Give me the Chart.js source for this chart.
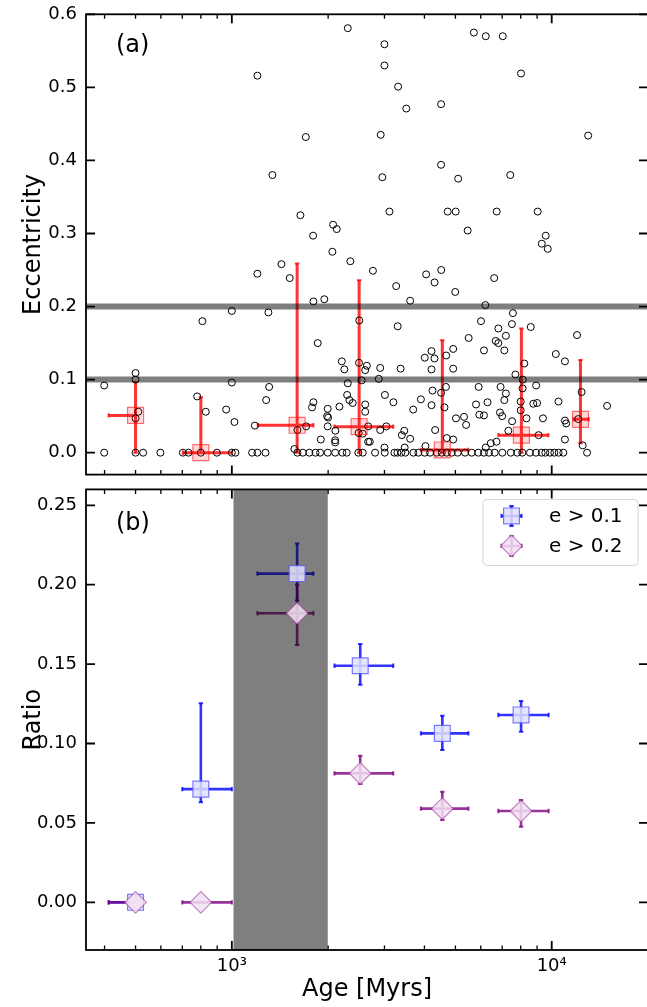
<!DOCTYPE html>
<html>
<head>
<meta charset="utf-8">
<script src="https://cdn.jsdelivr.net/npm/chart.js@4.4.1/dist/chart.umd.min.js"></script>
<style>
  html, body { margin: 0; padding: 0; background: #fff; overflow: hidden; width: 647px; height: 1007px; }
  canvas { position: absolute; left: 0; }
  #top { top: 0; }
  #bot { top: 480px; }
</style>
</head>
<body>
<canvas id="top" width="660" height="480"></canvas>
<canvas id="bot" width="660" height="527"></canvas>
<script>
// ---- data ----
// panel (a): [age Myr, eccentricity] of each star
const starAgeEcc = [
  [2304,.581],[1202,.516],[1703,.432],[1339,.380],[1638,.325],[1795,.297],[2073,.312],[2128,.306],
  [2999,.559],[2999,.530],[3310,.501],[3510,.471],[4510,.477],[2920,.435],[4510,.394],[2955,.377],
  [5100,.375],[7420,.380],[5710,.575],[6220,.570],[7030,.570],[8020,.519],[13000,.434],[3110,.330],
  [4730,.330],[5010,.330],[6730,.330],[9040,.330],[5460,.304],[9580,.297],[9310,.286],[9720,.279],
  [2062,.275],[2347,.262],[1429,.258],[1202,.245],[1517,.239],[1799,.207],[1946,.210],[809,.180],
  [1000,.194],[1301,.192],[1856,.150],[2503,.181],[2207,.125],[2248,.114],[2498,.123],[2643,.119],
  [2612,.113],[500,.109],[500,.100],[399,.092],[1000,.096],[1308,.090],[2304,.095],[2546,.099],
  [779,.077],[829,.056],[960,.059],[1019,.042],[1280,.072],[1180,.037],[2293,.079],[2331,.072],
  [2387,.068],[2169,.063],[1799,.069],[1781,.062],[1994,.060],[1986,.050],[2000,.048],[2612,.066],
  [2612,.056],[510,.056],[500,.047],[1994,.036],[2107,.030],[1897,.018],[2104,.017],[2104,.014],
  [1603,.031],[1707,.036],[1569,.005],[2491,.027],[2565,.026],[2668,.036],[2668,.015],
  [2761,.249],[3264,.228],[4050,.244],[4515,.250],[4303,.233],[4993,.220],[6610,.239],[3610,.208],
  [6200,.202],[7564,.191],[7510,.176],[8600,.172],[6010,.180],[6810,.170],[6810,.150],[7190,.160],
  [7110,.140],[6680,.153],[12000,.161],[3300,.173],[5500,.157],[6140,.140],[4010,.130],[4210,.139],
  [4300,.129],[4680,.133],[4920,.142],[4210,.114],[4920,.115],[3370,.115],[2910,.116],[10300,.135],
  [11000,.125],[8210,.122],[7700,.107],[2880,.101],[8940,.092],[8110,.088],[5910,.090],[6920,.090],
  [4670,.090],[4240,.085],[4510,.082],[7190,.081],[7110,.072],[12400,.083],[3010,.079],[3200,.069],
  [3900,.073],[4210,.065],[4620,.062],[3690,.059],[5800,.066],[6300,.069],[8000,.070],[8000,.058],
  [8760,.067],[9000,.068],[10500,.070],[5020,.047],[5320,.049],[5400,.038],[5940,.052],[6140,.051],
  [6890,.055],[7000,.050],[7520,.043],[9390,.047],[11000,.044],[11100,.040],[12100,.046],[2910,.031],
  [3460,.030],[3400,.024],[3610,.019],[2700,.015],[4320,.031],[4920,.018],[4700,.020],[4030,.009],
  [6220,.007],[6450,.013],[6720,.015],[7320,.030],[9100,.024],[11000,.018],[12500,.010],[12900,0],
  [14900,.064],[3000,.007],[3470,.007],[3040,.036],[8120,.100],[8340,.047],
  [399,0],[500,0],[528,0],[598,0],[703,0],[732,0],[800,0],[898,0],[1000,0],[1026,0],[1157,0],
  [1202,0],[1274,0],[1603,0],[1667,0],[1748,0],[1826,0],[1888,0],[1994,0],[2104,0],[2216,0],
  [2286,0],[2486,0],[2566,0],[2804,0],[3006,0],[3222,0],[3293,0],[3388,0],[3487,0],[3694,0],
  [3829,0],[4009,0],[4166,0],[4371,0],[4532,0],[4698,0],[4870,0],[5082,0],[5358,0],[5623,0],
  [5896,0],[6140,0],[6365,0],[6632,0],[7009,0],[7447,0],[7805,0],[8090,0],[8551,0],[8930,0],
  [9306,0],[9550,0],[9878,0],[10190,0],[10510,0],[10870,0]
];

// panel (a): binned medians
const binAge   = [500, 800, 1600, 2500, 4550, 8040, 12300];
const binAgeLo = [412, 703, 1205, 2093, 3900, 6810, 11700];
const binAgeHi = [500, 1000, 1799, 3196, 5487, 9760, 13050];
const medEcc   = [0.051, 0.000, 0.0375, 0.0356, 0.0037, 0.024, 0.0457];
const medEccLo = [0, 0, 0, 0, 0, 0, 0.013];
const medEccHi = [0.097, 0.076, 0.259, 0.236, 0.154, 0.170, 0.127];
const eccCuts  = [0.1, 0.2];

// panel (b): fraction of eccentric planets
const ratioAge   = [500, 800, 1600, 2520, 4550, 8020];
const ratioAgeLo = [412, 700, 1202, 2093, 3900, 6810];
const ratioAgeHi = [500, 1000, 1799, 3196, 5490, 9780];
const ratioE01   = [0, 0.0713, 0.207, 0.149, 0.1064, 0.118];
const ratioE01Lo = [0, 0.063, 0.190, 0.137, 0.0959, 0.1074];
const ratioE01Hi = [0, 0.1253, 0.226, 0.1626, 0.1175, 0.1268];
const ratioE02   = [0, 0, 0.182, 0.0812, 0.059, 0.0575];
const ratioE02Lo = [0, 0, 0.162, 0.0745, 0.0518, 0.0476];
const ratioE02Hi = [0, 0, 0.200, 0.0923, 0.0697, 0.0644];
const gapAge = [1012, 1995];
const legendLabels = ['e > 0.1', 'e > 0.2'];

// ticks
const xMajorTicks = [1000, 10000];
const xMajorLabels = ['10³', '10⁴'];
const xMinorTicks = [400, 500, 600, 700, 800, 900, 2000, 3000, 4000, 5000, 6000, 7000, 8000, 9000];
const eccTicks = [0, 0.1, 0.2, 0.3, 0.4, 0.5, 0.6];
const ratioTicks = [0, 0.05, 0.10, 0.15, 0.20, 0.25];

Chart.defaults.font.family = 'DejaVu Sans';
Chart.defaults.color = '#000';

const FONT = '"DejaVu Sans"';
const BLUE_BAR = 'rgba(0,0,255,0.8)';
const PURPLE_BAR = 'rgba(128,0,128,0.8)';

// fixed axis boxes, no label overflow padding
const fixY = s => { s.width = 86; s.paddingTop = 0; s.paddingBottom = 0; };
const fixX = h => s => { s.height = h; s.paddingLeft = 0; s.paddingRight = 0; };

function drawErrBars(ctx, x, y, g) {
  ctx.strokeStyle = g.color;
  g.x.forEach((xv, i) => {
    const px = x.getPixelForValue(xv), py = y.getPixelForValue(g.y[i]);
    const xl = x.getPixelForValue(g.xlo[i]), xh = x.getPixelForValue(g.xhi[i]);
    const yl = y.getPixelForValue(g.ylo[i]), yh = y.getPixelForValue(g.yhi[i]);
    ctx.lineWidth = g.width;
    ctx.beginPath();
    ctx.moveTo(xl, py); ctx.lineTo(xh, py);
    ctx.moveTo(px, yl); ctx.lineTo(px, yh);
    ctx.stroke();
    ctx.lineWidth = 2;
    ctx.beginPath();
    const c = 2.2;
    if (Math.abs(xl - px) > 1) { ctx.moveTo(xl, py - c); ctx.lineTo(xl, py + c); }
    if (Math.abs(xh - px) > 1) { ctx.moveTo(xh, py - c); ctx.lineTo(xh, py + c); }
    if (Math.abs(yl - py) > 1) { ctx.moveTo(px - c, yl); ctx.lineTo(px + c, yl); }
    if (Math.abs(yh - py) > 1) { ctx.moveTo(px - c, yh); ctx.lineTo(px + c, yh); }
    ctx.stroke();
  });
}

function makeUnderlay(groups, span) {
  return {
    id: 'underlay',
    beforeDatasetsDraw(chart) {
      const { ctx, chartArea: a, scales: { x, y } } = chart;
      ctx.save();
      groups.forEach(g => drawErrBars(ctx, x, y, g));
      if (span) {
        const x0 = x.getPixelForValue(span[0]), x1 = x.getPixelForValue(span[1]);
        ctx.fillStyle = 'rgba(0,0,0,0.5)';
        ctx.fillRect(x0, a.top, x1 - x0, a.bottom - a.top);
      }
      ctx.restore();
    }
  };
}

function makeCutLines(levels) {
  return {
    id: 'cutLines',
    afterDatasetsDraw(chart) {
      const { ctx, chartArea: a, scales: { y } } = chart;
      ctx.save();
      ctx.strokeStyle = 'rgba(0,0,0,0.5)';
      ctx.lineWidth = 6;
      levels.forEach(v => {
        const py = y.getPixelForValue(v);
        ctx.beginPath(); ctx.moveTo(a.left, py); ctx.lineTo(a.right, py); ctx.stroke();
      });
      ctx.restore();
    }
  };
}

function makeFrame(yTicks, label, labelDy) {
  return {
    id: 'frame',
    afterDraw(chart) {
      const { ctx, chartArea: a, scales: { x, y } } = chart;
      ctx.save();
      ctx.strokeStyle = '#000';
      const xt = (vals, len, lw) => {
        ctx.lineWidth = lw;
        ctx.beginPath();
        vals.forEach(v => {
          const px = x.getPixelForValue(v);
          ctx.moveTo(px, a.bottom); ctx.lineTo(px, a.bottom - len);
          ctx.moveTo(px, a.top); ctx.lineTo(px, a.top + len);
        });
        ctx.stroke();
      };
      xt(xMajorTicks, 9, 1.8);
      xt(xMinorTicks, 4.5, 1.3);
      ctx.lineWidth = 1.8;
      ctx.beginPath();
      yTicks.forEach(v => {
        const py = y.getPixelForValue(v);
        ctx.moveTo(a.left, py); ctx.lineTo(a.left + 9, py);
        ctx.moveTo(a.right, py); ctx.lineTo(a.right - 9, py);
      });
      ctx.stroke();
      ctx.strokeRect(a.left, a.top, a.right - a.left, a.bottom - a.top);
      ctx.fillStyle = '#000';
      ctx.font = '24px ' + FONT;
      ctx.textAlign = 'left';
      ctx.textBaseline = 'alphabetic';
      ctx.fillText(label, a.left + 30, a.top + labelDy);
      ctx.restore();
    }
  };
}

function square(ctx, cx, cy, h) { ctx.beginPath(); ctx.rect(cx - h, cy - h, 2 * h, 2 * h); }
function diamond(ctx, cx, cy, r) {
  ctx.beginPath(); ctx.moveTo(cx, cy - r); ctx.lineTo(cx + r, cy); ctx.lineTo(cx, cy + r); ctx.lineTo(cx - r, cy); ctx.closePath();
}

const legendBox = {
  id: 'legendBox',
  afterDraw(chart) {
    const { ctx, chartArea: a } = chart;
    const w = 155, h = 66;
    const L = a.right - 10 - w, T = a.top + 10;
    ctx.save();
    ctx.beginPath();
    ctx.roundRect(L, T, w, h, 4);
    ctx.fillStyle = 'rgba(255,255,255,0.8)';
    ctx.fill();
    ctx.strokeStyle = '#d6d6d6';
    ctx.lineWidth = 1;
    ctx.stroke();
    const items = [
      { bar: BLUE_BAR, fill: 'rgba(225,225,255,0.85)', edge: 'rgba(90,90,255,0.8)', shape: 'square' },
      { bar: PURPLE_BAR, fill: 'rgba(242,225,242,0.85)', edge: 'rgba(160,60,160,0.6)', shape: 'diamond' }
    ];
    items.forEach((it, i) => {
      const cx = L + 28.5, cy = T + 16.5 + i * 30;
      ctx.strokeStyle = it.bar;
      ctx.lineWidth = 2.5;
      ctx.beginPath();
      ctx.moveTo(cx - 10, cy); ctx.lineTo(cx + 10, cy);
      ctx.moveTo(cx, cy - 10); ctx.lineTo(cx, cy + 10);
      ctx.stroke();
      ctx.lineWidth = 2;
      ctx.beginPath();
      ctx.moveTo(cx - 10, cy - 2.2); ctx.lineTo(cx - 10, cy + 2.2);
      ctx.moveTo(cx + 10, cy - 2.2); ctx.lineTo(cx + 10, cy + 2.2);
      ctx.moveTo(cx - 2.2, cy - 10); ctx.lineTo(cx + 2.2, cy - 10);
      ctx.moveTo(cx - 2.2, cy + 10); ctx.lineTo(cx + 2.2, cy + 10);
      ctx.stroke();
      if (it.shape === 'square') square(ctx, cx, cy, 7.9); else diamond(ctx, cx, cy, 10.8);
      ctx.fillStyle = it.fill; ctx.fill();
      ctx.strokeStyle = it.edge; ctx.lineWidth = 1.2; ctx.stroke();
      ctx.fillStyle = '#000';
      ctx.font = '20px ' + FONT;
      ctx.textAlign = 'left';
      ctx.textBaseline = 'middle';
      ctx.fillText(legendLabels[i], L + 66, cy + 1);
    });
    ctx.restore();
  }
};

const pts = (xs, ys) => xs.map((v, i) => ({ x: v, y: ys[i] }));

const baseOpts = {
  responsive: false,
  animation: false,
  devicePixelRatio: 1,
  events: []
};

// ---- panel (a) ----
new Chart(document.getElementById('top'), {
  type: 'scatter',
  data: {
    datasets: [
      {
        label: 'median',
        data: pts(binAge, medEcc),
        pointStyle: 'rect',
        pointRadius: 11.3,
        backgroundColor: 'rgba(255,0,0,0.15)',
        borderColor: 'rgba(255,0,0,0.55)',
        borderWidth: 1.2
      },
      {
        label: 'stars',
        data: starAgeEcc.map(p => ({ x: p[0], y: p[1] })),
        pointRadius: 3.5,
        backgroundColor: 'rgba(0,0,0,0)',
        borderColor: '#000',
        borderWidth: 1
      }
    ]
  },
  options: {
    ...baseOpts,
    layout: { autoPadding: false, padding: { left: 0, right: 12, top: 14.3, bottom: 5.4 } },
    plugins: { legend: { display: false }, tooltip: { enabled: false } },
    scales: {
      x: { type: 'logarithmic', min: 350, max: 20000, display: false },
      y: {
        min: -0.03, max: 0.6,
        afterFit: fixY,
        afterBuildTicks: s => { s.ticks = eccTicks.map(v => ({ value: v })); },
        grid: { display: false, drawTicks: false },
        border: { display: false },
        ticks: { font: { size: 18 }, padding: 9, callback: v => v.toFixed(1) },
        title: { display: true, text: 'Eccentricity', font: { size: 24 }, padding: { top: 19, bottom: 0 } }
      }
    }
  },
  plugins: [
    makeUnderlay([{ x: binAge, y: medEcc, xlo: binAgeLo, xhi: binAgeHi, ylo: medEccLo, yhi: medEccHi,
                    color: 'rgba(255,0,0,0.8)', width: 3 }], null),
    makeCutLines(eccCuts),
    makeFrame(eccTicks, '(a)', 37.5)
  ]
});

// ---- panel (b) ----
new Chart(document.getElementById('bot'), {
  type: 'scatter',
  data: {
    datasets: [
      {
        label: legendLabels[1],
        data: pts(ratioAge, ratioE02),
        pointStyle: 'rectRot',
        pointRadius: 10.8,
        backgroundColor: 'rgba(242,225,242,0.85)',
        borderColor: 'rgba(160,60,160,0.6)',
        borderWidth: 1.2
      },
      {
        label: legendLabels[0],
        data: pts(ratioAge, ratioE01),
        pointStyle: 'rect',
        pointRadius: 11.2,
        backgroundColor: 'rgba(225,225,255,0.85)',
        borderColor: 'rgba(90,90,255,0.8)',
        borderWidth: 1.2
      }
    ]
  },
  options: {
    ...baseOpts,
    layout: { autoPadding: false, padding: { left: 0, right: 12, top: 9.4, bottom: 0 } },
    plugins: { legend: { display: false }, tooltip: { enabled: false } },
    scales: {
      x: {
        type: 'logarithmic', min: 350, max: 20000,
        afterFit: fixX(57),
        afterBuildTicks: s => { s.ticks = xMajorTicks.map(v => ({ value: v })); },
        grid: { display: false, drawTicks: false },
        border: { display: false },
        ticks: { font: { size: 18 }, padding: 6, autoSkip: false, maxRotation: 0,
                 callback: (v, i) => xMajorLabels[i] },
        title: { display: true, text: 'Age [Myrs]', font: { size: 24 }, padding: { top: 0, bottom: 3 } }
      },
      y: {
        min: -0.03, max: 0.26,
        afterFit: fixY,
        afterBuildTicks: s => { s.ticks = ratioTicks.map(v => ({ value: v })); },
        grid: { display: false, drawTicks: false },
        border: { display: false },
        ticks: { font: { size: 18 }, padding: 9, callback: v => v.toFixed(2) },
        title: { display: true, text: 'Ratio', font: { size: 24 }, padding: { top: 19, bottom: 0 } }
      }
    }
  },
  plugins: [
    makeUnderlay([
      { x: ratioAge, y: ratioE01, xlo: ratioAgeLo, xhi: ratioAgeHi, ylo: ratioE01Lo, yhi: ratioE01Hi, color: BLUE_BAR, width: 2.6 },
      { x: ratioAge, y: ratioE02, xlo: ratioAgeLo, xhi: ratioAgeHi, ylo: ratioE02Lo, yhi: ratioE02Hi, color: PURPLE_BAR, width: 2.6 }
    ], gapAge),
    makeFrame(ratioTicks, '(b)', 40.7),
    legendBox
  ]
});
</script>
</body>
</html>
